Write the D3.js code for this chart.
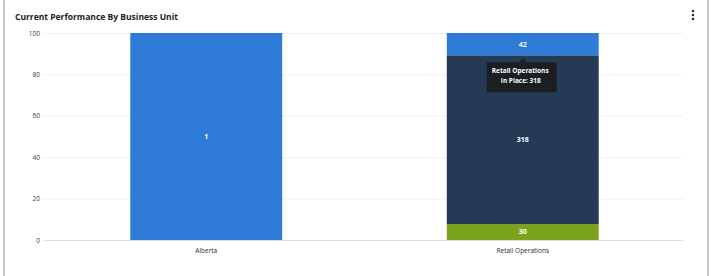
<!DOCTYPE html>
<html>
<head>
<meta charset="utf-8">
<script src="https://cdn.jsdelivr.net/npm/d3@7"></script>
<style>
  body { margin: 0; background: #fff; font-family: "Open Sans", "DejaVu Sans", sans-serif; }
</style>
</head>
<body>
<div id="chart"></div>
<script>
let categories = ["Alberta", "Retail Operations"];
let series_names = ["Not In Place", "In Place", "Planned"];
let not_in_place = [0, 30];
let in_place = [0, 318];
let planned = [1, 42];
let y_ticks = [0, 20, 40, 60, 80, 100];

let color_map = {
    "Not In Place": "#7ba31e",
    "In Place": "#253a55",
    "Planned": "#2f7bd8"
};

let chart_width = 720;
let chart_height = 276;

let rows = categories.map(function(c, i) {
    let total = not_in_place[i] + in_place[i] + planned[i];
    return {
        "category": c,
        "Not In Place": not_in_place[i] / total * 100,
        "In Place": in_place[i] / total * 100,
        "Planned": planned[i] / total * 100,
        "raw": {"Not In Place": not_in_place[i], "In Place": in_place[i], "Planned": planned[i]}
    };
});

let stacked = d3.stack().keys(series_names)(rows);

let svg = d3.select("#chart")
    .append("svg")
    .attr("width", chart_width)
    .attr("height", chart_height);

// card edges
svg.append("rect")
    .attr("x", 4).attr("y", -2)
    .attr("width", 704).attr("height", chart_height + 4)
    .attr("fill", "#fff")
    .attr("stroke", "#c9c9c9")
    .attr("stroke-width", 2);

svg.append("text")
    .attr("x", 15).attr("y", 20)
    .attr("font-size", 8.5)
    .attr("font-weight", "bold")
    .attr("fill", "#222")
    .text("Current Performance By Business Unit");

// menu dots
[11, 15, 19].forEach(function(y) {
    svg.append("circle").attr("cx", 693).attr("cy", y).attr("r", 1.3).attr("fill", "#333");
});

let xScale = d3.scaleBand()
    .domain(categories)
    .range([48, 681])
    .paddingInner(0.52)
    .paddingOuter(0.26);

let yScale = d3.scaleLinear()
    .domain([0, 100])
    .range([240, 33]);

let grid = svg.append("g");
grid.selectAll("line")
    .data(y_ticks)
    .enter()
    .append("line")
    .attr("x1", 44)
    .attr("x2", 683)
    .attr("y1", function(d) { return yScale(d) + 0.5; })
    .attr("y2", function(d) { return yScale(d) + 0.5; })
    .attr("stroke", function(d) { return d === 0 ? "#dcdcdc" : "#f0f0f0"; })
    .attr("stroke-width", 1);

let y_axis = svg.append("g")
    .attr("transform", "translate(40,0)")
    .call(d3.axisLeft(yScale).tickValues(y_ticks).tickSize(0).tickPadding(0));
y_axis.select(".domain").remove();
y_axis.selectAll("text").attr("font-size", 6.5).attr("fill", "#3a3a3a").attr("font-family", "Open Sans, sans-serif");

let x_axis = svg.append("g")
    .attr("transform", "translate(0,240)")
    .call(d3.axisBottom(xScale).tickSize(0).tickPadding(8));
x_axis.select(".domain").remove();
x_axis.selectAll("text").attr("font-size", 6.5).attr("fill", "#2a2a2a").attr("font-family", "Open Sans, sans-serif");

let layers = svg.selectAll(".layer")
    .data(stacked)
    .enter()
    .append("g")
    .attr("class", "layer")
    .attr("fill", function(d) { return color_map[d.key]; });

layers.selectAll("rect")
    .data(function(d) { return d; })
    .enter()
    .append("rect")
    .attr("x", function(d) { return xScale(d.data.category); })
    .attr("width", xScale.bandwidth())
    .attr("y", function(d) { return yScale(d[1]); })
    .attr("height", function(d) { return yScale(d[0]) - yScale(d[1]); });

layers.each(function(layer) {
    d3.select(this).selectAll("text")
        .data(layer.filter(function(d) { return d[1] - d[0] > 0; }))
        .enter()
        .append("text")
        .attr("x", function(d) { return xScale(d.data.category) + xScale.bandwidth() / 2; })
        .attr("y", function(d) { return (yScale(d[0]) + yScale(d[1])) / 2; })
        .attr("dy", "0.35em")
        .attr("text-anchor", "middle")
        .attr("font-size", 7)
        .attr("font-weight", "bold")
        .attr("fill", "#fff")
        .text(function(d) { return d.data.raw[layer.key]; });
});

// tooltip on the In Place segment of Retail Operations
let tip_x = xScale("Retail Operations") + xScale.bandwidth() / 2;
let tip_top = yScale(stacked[1][1][1]) + 3;
let tip = svg.append("g");
tip.append("path")
    .attr("d", "M" + (tip_x - 4) + "," + (tip_top + 4) + " L" + tip_x + "," + tip_top + " L" + (tip_x + 4) + "," + (tip_top + 4) + "Z")
    .attr("fill", "#1b1f24");
tip.append("rect")
    .attr("x", tip_x - 36).attr("y", tip_top + 4)
    .attr("width", 70).attr("height", 30)
    .attr("fill", "#1b1f24");
tip.append("text")
    .attr("x", tip_x - 31).attr("y", tip_top + 15)
    .attr("font-size", 6.5).attr("font-weight", "bold").attr("fill", "#fff")
    .text(categories[1]);
tip.append("text")
    .attr("x", tip_x - 22).attr("y", tip_top + 25)
    .attr("font-size", 6.5).attr("font-weight", "bold").attr("fill", "#fff")
    .text("In Place: " + in_place[1]);
</script>
</body>
</html>
